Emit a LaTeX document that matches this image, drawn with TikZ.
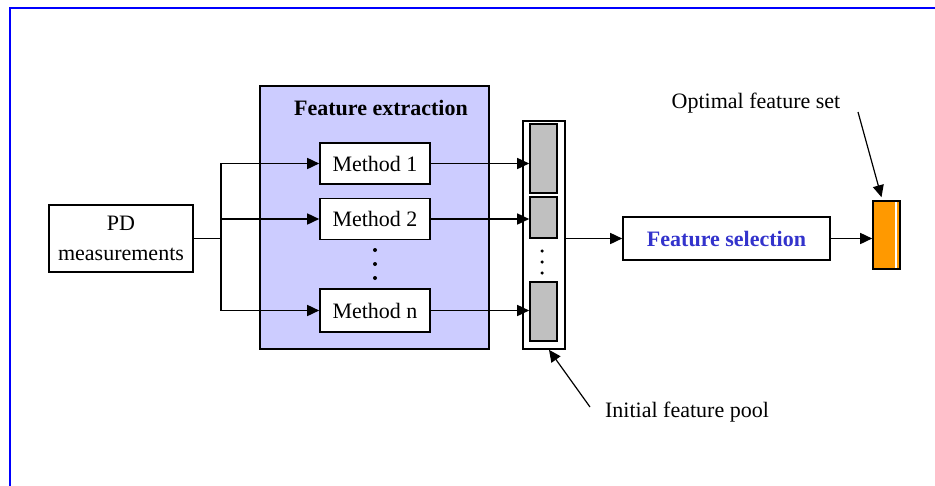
\documentclass[tikz,border=0pt]{standalone}
\usepackage{fontspec}
\setmainfont{Liberation Serif}
\usepackage{xcolor}
\usepackage{tikz}
\usetikzlibrary{positioning}
\usetikzlibrary{calc}
\usetikzlibrary{arrows.meta}
\definecolor{frameblue}{RGB}{0,0,255}
\definecolor{extfill}{RGB}{204,204,255}
\definecolor{poolgray}{RGB}{192,192,192}
\definecolor{optorange}{RGB}{255,153,0}
\definecolor{selblue}{RGB}{51,51,204}
\tikzset{box/.style={draw, line width=1.6pt, fill=white, inner sep=0pt}}
\tikzset{graybox/.style={draw, line width=1.6pt, fill=poolgray, inner sep=0pt, minimum width=27pt}}
\tikzset{arr/.style={line width=1.6pt, -{Triangle[length=12pt,width=11pt]}}}
\tikzset{dot/.style={circle, fill, inner sep=0pt, minimum size=4pt}}

\begin{document}
\begin{tikzpicture}[x=1pt, y=-1pt, font=\fontsize{22}{30}\selectfont]
\useasboundingbox (0,0) rectangle (935,485);
\clip (0,0) rectangle (935,485);
\draw[frameblue, line width=2.5pt] (10,8) rectangle (960,520);

\node[box, minimum width=144pt, minimum height=67pt, align=center] (pd) at (121,238.5) {PD\\measurements};
\node[draw, line width=1.6pt, fill=extfill, minimum width=229pt, minimum height=263pt] (ext) at (374.5,217.5) {};
\node[font=\fontsize{22}{26}\selectfont\bfseries] (exttitle) at (381,108) {Feature extraction};
\node[box, minimum width=110pt, minimum height=41pt] (m1) at (375,163.5) {Method 1};
\node[box, minimum width=110pt, minimum height=41pt] (m2) at (375,219) {Method 2};
\node[box, minimum width=110pt, minimum height=43pt] (mn) at (375,310.5) {Method n};
\node[dot] (md1) at (375,250) {};
\node[dot] (md2) at (375,264) {};
\node[dot] (md3) at (375,278) {};

\node[box, minimum width=42pt, minimum height=228pt] (pool) at (544,235) {};
\node[graybox, minimum height=69pt] (b1) at (543.5,158.5) {};
\node[graybox, minimum height=41pt] (b2) at (543.5,217.5) {};
\node[graybox, minimum height=59pt] (b3) at (543.5,311.5) {};
\node[dot, minimum size=3.5pt] (pd1) at (542,251) {};
\node[dot, minimum size=3.5pt] (pd2) at (542,262) {};
\node[dot, minimum size=3.5pt] (pd3) at (542,273) {};

\node[box, minimum width=207pt, minimum height=43pt, text=selblue, font=\fontsize{22}{26}\selectfont\bfseries] (fs) at (726.5,238.5) {Feature selection};
\node[draw, line width=1.6pt, fill=optorange, minimum width=27pt, minimum height=68pt] (opt) at (886.5,235) {};
\draw[white, line width=2pt] ($(opt.north east)+(-5,2)$) -- ($(opt.south east)+(-5,-2)$);

\node (optlbl) at (756,103) {Optimal feature set};
\node (poollbl) at (687,412) {Initial feature pool};

\coordinate (split) at (221,238.5);
\draw[line width=1.6pt] (pd.east) -- (split);
\draw[arr] (split) |- (m1.west);
\draw[arr] (split) |- (m2.west);
\draw[arr] (split) |- (mn.west);
\draw[arr] (m1.east) -- (m1.east -| b1.west);
\draw[arr] (m2.east) -- (m2.east -| b2.west);
\draw[arr] (mn.east) -- (mn.east -| b3.west);
\draw[arr] (pool.east |- fs.west) -- (fs.west);
\draw[arr] (fs.east) -- (fs.east -| opt.west);

\coordinate (optfoot) at (858,112);
\draw[arr, line width=1.2pt] (optfoot) -- ($(opt.north)+(-5,-3)$);
\coordinate (poolfoot) at (590,407);
\draw[arr, line width=1.2pt] (poolfoot) -- ($(pool.south)+(5,0)$);
\end{tikzpicture}
\end{document}
